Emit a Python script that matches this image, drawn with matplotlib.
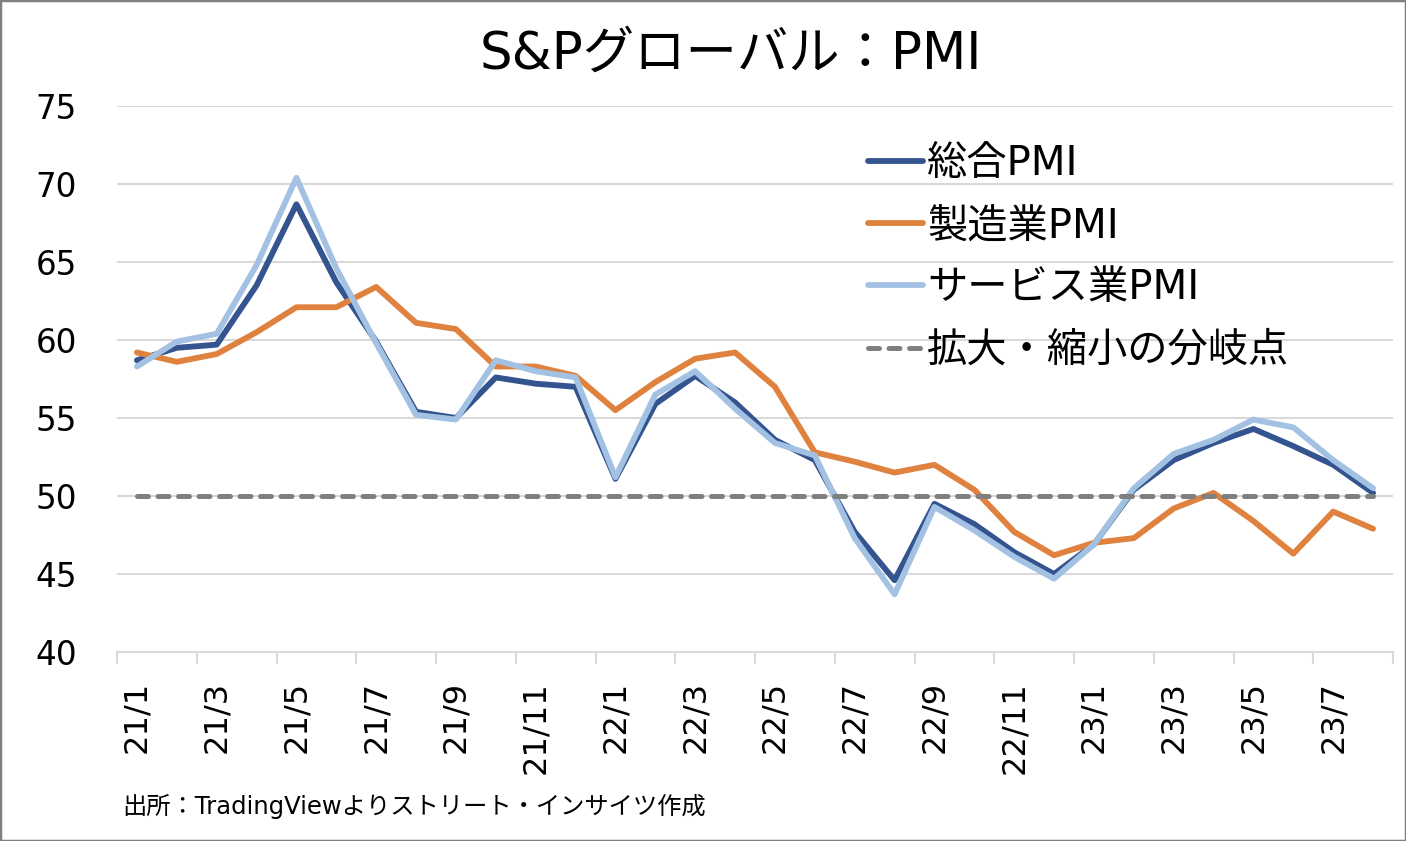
import numpy as np
import matplotlib
matplotlib.use("Agg")
import matplotlib.pyplot as plt
from matplotlib.patches import Rectangle

plt.rcParams['font.family'] = ['DejaVu Sans', 'Noto Sans CJK JP']

# 月次データ (21/1 - 23/8)
months = [f"{y}/{m}" for y in (21, 22, 23) for m in range(1, 13)][:32]
composite = [58.7, 59.5, 59.7, 63.5, 68.7, 63.7, 59.9, 55.4, 55.0, 57.6, 57.2, 57.0,
             51.1, 55.9, 57.7, 56.0, 53.6, 52.3, 47.7, 44.6, 49.5, 48.2, 46.4, 45.0,
             46.9, 50.4, 52.3, 53.4, 54.3, 53.2, 52.0, 50.2]
manufacturing = [59.2, 58.6, 59.1, 60.5, 62.1, 62.1, 63.4, 61.1, 60.7, 58.3, 58.3, 57.7,
                 55.5, 57.3, 58.8, 59.2, 57.0, 52.8, 52.2, 51.5, 52.0, 50.4, 47.7, 46.2,
                 47.0, 47.3, 49.2, 50.2, 48.4, 46.3, 49.0, 47.9]
services = [58.3, 59.9, 60.4, 64.8, 70.4, 64.6, 59.8, 55.2, 54.9, 58.7, 58.0, 57.6,
            51.2, 56.5, 58.0, 55.6, 53.4, 52.6, 47.3, 43.7, 49.3, 47.8, 46.1, 44.7,
            46.9, 50.5, 52.7, 53.6, 54.9, 54.4, 52.3, 50.5]
threshold = [50] * len(months)

x = np.arange(len(months))

fig = plt.figure(figsize=(14.06, 8.41), dpi=100)
ax = fig.add_axes([117 / 1406, 1 - 652 / 841, (1393 - 117) / 1406, (652 - 106) / 841])

ax.plot(x, composite, color='#34548F', lw=4.2, label='総合PMI', solid_capstyle='round')
ax.plot(x, manufacturing, color='#E0823F', lw=4.2, label='製造業PMI', solid_capstyle='round')
ax.plot(x, services, color='#A3C2E3', lw=4.2, label='サービス業PMI', solid_capstyle='round')
ax.plot(x, threshold, color='#7F7F7F', lw=3.6, linestyle=(0, (2.2, 1.9)),
        dash_capstyle='round', label='拡大・縮小の分岐点')

ax.set_xlim(-0.5, len(months) - 0.5)
ax.set_ylim(40, 75)
ax.set_yticks(np.arange(40, 76, 5))
ax.yaxis.grid(True, color='#D9D9D9', lw=1.5)
ax.set_axisbelow(True)

# 目盛線は区切り、ラベルはカテゴリ中央
ax.set_xticks(np.arange(-0.5, len(months), 2))
ax.set_xticklabels([])
ax.set_xticks(x[::2], minor=True)
ax.set_xticklabels(months[::2], minor=True, rotation=90, fontsize=23)
ax.tick_params(axis='x', which='major', length=8.6, width=1.5, color='#D9D9D9')
ax.tick_params(axis='x', which='minor', length=0, pad=21)
ax.tick_params(axis='y', length=0, pad=29, labelsize=23.5)

for s in ['top', 'right', 'left']:
    ax.spines[s].set_visible(False)
ax.spines['bottom'].set_color('#D9D9D9')
ax.spines['bottom'].set_linewidth(1.5)

fig.text(731 / 1406, 1 - 55 / 841, 'S&Pグローバル：PMI', fontsize=37,
         ha='center', va='center')

ax.legend(loc='upper left', bbox_to_anchor=(848 / 1406, 1 - 124 / 841),
          bbox_transform=fig.transFigure, frameon=False, fontsize=29,
          handlelength=1.35, handletextpad=0.12, labelspacing=0.55, borderpad=0)

fig.text(122 / 1406, 1 - 806 / 841, '出所：TradingViewよりストリート・インサイツ作成',
         fontsize=17.5, ha='left', va='center')

fig.patches.append(Rectangle((0, 0), 1, 1, transform=fig.transFigure, fill=False,
                             edgecolor='#7F7F7F', lw=2.5))

fig.savefig('out.png', dpi=100)
